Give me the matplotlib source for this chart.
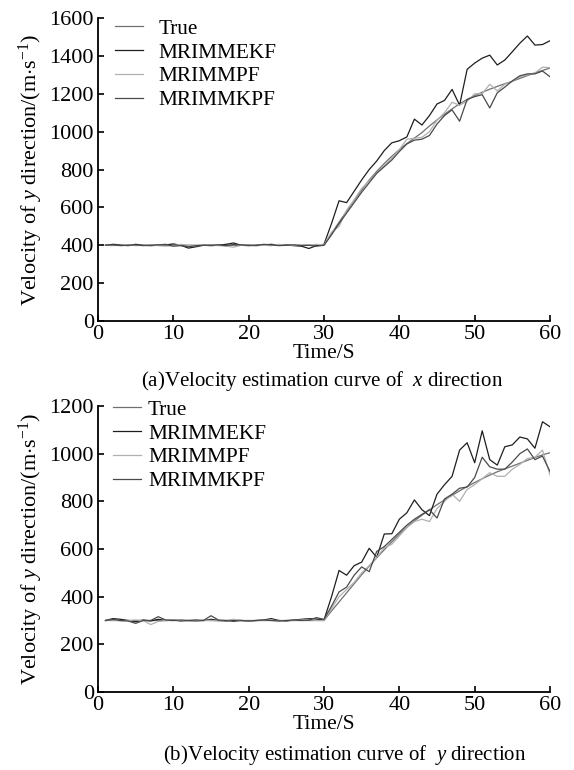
import numpy as np
import matplotlib
matplotlib.use('Agg')
import matplotlib.pyplot as plt

plt.rcParams['font.family'] = 'Liberation Serif'
plt.rcParams['mathtext.fontset'] = 'custom'
plt.rcParams['mathtext.rm'] = 'Liberation Serif'
plt.rcParams['mathtext.it'] = 'Liberation Serif:italic'

t = np.arange(1, 61)

# ---- (a) x direction ----
x_true = [400] * 30 + [462, 522, 580, 637, 692, 745, 790, 832, 870, 905,
                       937, 966, 995, 1030, 1062, 1092, 1120, 1147, 1170, 1190,
                       1208, 1224, 1239, 1253, 1266, 1281, 1296, 1310, 1323, 1336]
x_ekf = [400, 405, 402, 398, 405, 400, 398, 400, 402, 407, 400, 385, 392, 400, 398,
         400, 405, 412, 400, 398, 400, 402, 405, 400, 402, 398, 395, 383, 398, 405,
         515, 635, 625, 685, 745, 800, 845, 900, 941, 952, 972, 1066, 1035, 1085, 1146,
         1165, 1223, 1140, 1329, 1362, 1388, 1404, 1352, 1378, 1422, 1467, 1505, 1457, 1460, 1480]
x_pf = [400, 398, 400, 403, 398, 400, 402, 398, 395, 398, 405, 400, 398, 400, 402,
        398, 395, 390, 400, 402, 398, 400, 398, 405, 400, 398, 402, 400, 405, 402,
        470, 500, 585, 640, 700, 740, 782, 820, 860, 905, 960, 965, 970, 1000, 1060,
        1100, 1155, 1140, 1160, 1200, 1200, 1250, 1215, 1250, 1265, 1290, 1300, 1310, 1340, 1338]
x_kpf = [400, 402, 398, 400, 402, 398, 400, 402, 405, 395, 398, 392, 398, 400, 400,
         402, 398, 404, 402, 400, 398, 405, 402, 398, 400, 402, 398, 400, 395, 400,
         455, 515, 570, 625, 680, 730, 780, 815, 850, 895, 935, 955, 960, 980, 1040,
         1085, 1115, 1055, 1170, 1185, 1195, 1125, 1205, 1235, 1268, 1295, 1305, 1305, 1320, 1290]

# ---- (b) y direction ----
y_true = [300] * 30 + [340, 378, 416, 454, 492, 528, 563, 597, 630, 662,
                       692, 718, 742, 764, 786, 806, 825, 844, 862, 879,
                       895, 910, 924, 936, 948, 960, 972, 984, 995, 1004]
y_ekf = [300, 308, 305, 300, 295, 302, 298, 305, 300, 302, 298, 300, 302, 300, 305,
         300, 298, 302, 300, 298, 300, 302, 308, 300, 298, 302, 305, 308, 306, 302,
         400, 510, 490, 530, 545, 603, 565, 663, 664, 725, 752, 806, 765, 740, 830,
         870, 905, 1015, 1046, 962, 1096, 975, 952, 1029, 1037, 1070, 1062, 1023, 1134, 1113]
y_pf = [300, 302, 298, 300, 302, 300, 283, 296, 300, 302, 300, 298, 300, 302, 300,
        298, 300, 305, 300, 298, 300, 300, 302, 298, 300, 300, 302, 305, 300, 300,
        350, 400, 430, 460, 500, 530, 565, 605, 620, 655, 690, 715, 725, 715, 770,
        800, 830, 800, 850, 870, 895, 920, 905, 905, 935, 955, 980, 985, 1015, 910]
y_kpf = [300, 305, 300, 298, 288, 300, 300, 316, 302, 300, 302, 300, 298, 300, 320,
         302, 300, 296, 300, 298, 300, 302, 300, 298, 300, 302, 300, 302, 312, 305,
         360, 420, 440, 490, 525, 505, 590, 610, 640, 670, 700, 725, 745, 765, 730,
         810, 830, 855, 860, 900, 985, 945, 935, 935, 965, 1000, 1020, 975, 990, 925]

labels = ['True', 'MRIMMEKF', 'MRIMMPF', 'MRIMMKPF']
colors = ['#707070', '#1e1e1e', '#b0b0b0', '#4a4a4a']

fig = plt.figure(figsize=(5.74, 7.70), dpi=100)
ax1 = fig.add_axes([0.1707, 0.5831, 0.7875, 0.3935])
ax2 = fig.add_axes([0.1707, 0.1013, 0.7875, 0.3714])

ylab = r'Velocity of $y$ direction/(m$\cdot$s$^{\mathregular{-1}}$)'

def style(ax, ymax, ystep):
    ax.set_xlim(0, 60)
    ax.set_ylim(0, ymax)
    ax.set_xticks(range(0, 61, 10))
    ax.set_yticks(range(0, ymax + 1, ystep))
    for s in ['top', 'right']:
        ax.spines[s].set_visible(False)
    for s in ['left', 'bottom']:
        ax.spines[s].set_linewidth(1.3)
    ax.tick_params(direction='in', length=4, width=1.2, labelsize=16, pad=3)
    ax.set_xlabel('Time/S', fontsize=15.5, labelpad=0)
    ax.set_ylabel(ylab, fontsize=16, labelpad=3)

for ax, series in [(ax1, [x_true, x_ekf, x_pf, x_kpf]), (ax2, [y_true, y_ekf, y_pf, y_kpf])]:
    for s, lab, c in zip(series, labels, colors):
        ax.plot(t, s, color=c, linewidth=0.9, label=lab)

style(ax1, 1600, 200)
style(ax2, 1200, 200)

ax1.legend(loc='upper left', bbox_to_anchor=(115 / 574, 1 - 19 / 770), bbox_transform=fig.transFigure,
           frameon=False, fontsize=15.3, handlelength=1.3, handletextpad=0.75,
           labelspacing=0.18, borderpad=0, borderaxespad=0)
ax2.legend(loc='upper left', bbox_to_anchor=(113 / 574, 1 - 400 / 770), bbox_transform=fig.transFigure,
           frameon=False, fontsize=15.3, handlelength=1.3, handletextpad=0.35,
           labelspacing=0.18, borderpad=0, borderaxespad=0)

fig.text(322 / 574, 1 - 381 / 770, r'(a)Velocity estimation curve of  $x$ direction',
         ha='center', va='center', fontsize=15)
fig.text(345 / 574, 1 - 755 / 770, r'(b)Velocity estimation curve of  $y$ direction',
         ha='center', va='center', fontsize=15)

plt.savefig('out.png', dpi=100)
